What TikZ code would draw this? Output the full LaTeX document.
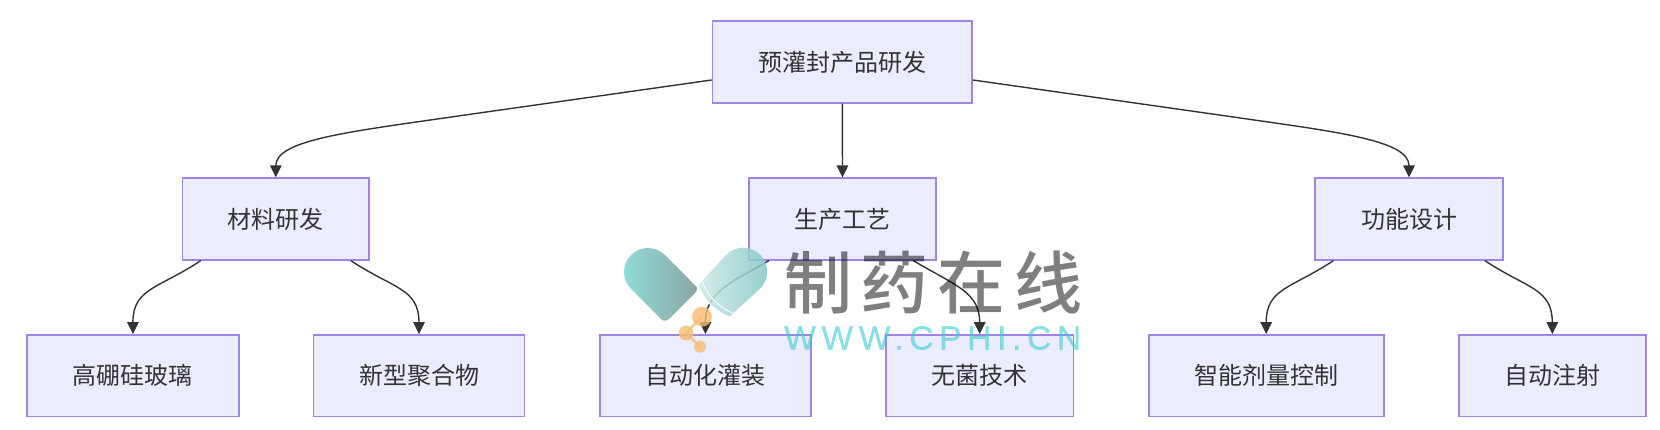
\documentclass[tikz,border=0pt]{standalone}
\usepackage{fontspec}
\setmainfont{Noto Sans CJK SC}
\newfontfamily\wmcjk[LetterSpace=13]{Noto Sans CJK SC Medium}
\newfontfamily\wmlat[LetterSpace=17,FakeBold=.5]{Liberation Sans}
\usetikzlibrary{arrows.meta}
\definecolor{boxfill}{HTML}{ECECFF}
\definecolor{boxline}{HTML}{A283E3}
\definecolor{ink}{HTML}{333333}
\definecolor{wmcyan}{HTML}{3CCDD3}
\definecolor{wmorange}{HTML}{F5BC70}
\definecolor{pillA}{HTML}{92DDD9}
\definecolor{pillB}{HTML}{8AA5A3}
\definecolor{pillC}{HTML}{CDE9E5}
\definecolor{pillD}{HTML}{82C6C4}
\tikzset{
  box/.style={draw=boxline,fill=boxfill,line width=1.7pt,text=ink,inner sep=0pt,
    minimum height=81.5pt,font=\fontsize{24}{28}\selectfont},
  link/.style={draw=ink,line width=1.4pt,-{Triangle[length=12pt,width=11.5pt]}},
  pilledge/.style={draw=white,line width=0.9pt},
  atom/.style={fill=wmorange,fill opacity=.8},
  bond/.style={draw=wmorange,line width=2.5pt,opacity=.8},
}
\begin{document}
\begin{tikzpicture}[x=1pt,y=-1pt]
\useasboundingbox (0,0) rectangle (1660,430);
% boxes
\node[box,minimum width=259.5pt] (root) at (842.3,62) {预灌封产品研发};
\node[box,minimum width=186.5pt] (mat)  at (275.8,219) {材料研发};
\node[box,minimum width=187.5pt] (prod) at (842.5,219) {生产工艺};
\node[box,minimum width=187.5pt] (func) at (1409,219) {功能设计};
\node[box,minimum width=211.5pt] (gao)  at (132.9,375.7) {高硼硅玻璃};
\node[box,minimum width=211pt]   (xin)  at (419,375.7) {新型聚合物};
\node[box,minimum width=211pt]   (zi)   at (705.4,375.7) {自动化灌装};
\node[box,minimum width=187.5pt] (wu)   at (979.7,375.7) {无菌技术};
\node[box,minimum width=235pt]   (zhi)  at (1266.2,375.7) {智能剂量控制};
\node[box,minimum width=187pt]   (auto) at (1552.3,375.7) {自动注射};
% connectors
\draw[link] ([yshift=-18pt]root.west) -- ++(-250,35.5) .. controls +(-110,16) and +(0,-38) .. (mat.north);
\draw[link] (root.south) -- (prod.north);
\draw[link] ([yshift=-18pt]root.east) -- ++(250,35.5) .. controls +(110,16) and +(0,-38) .. (func.north);
\draw[link] ([xshift=-75pt]mat.south) .. controls +(-42,28) and +(0,-46) .. (gao.north);
\draw[link] ([xshift=75pt]mat.south) .. controls +(42,28) and +(0,-46) .. (xin.north);
\draw[link] ([xshift=-73.5pt]prod.south) .. controls +(-38,22) and +(0,-42) .. (zi.north);
\draw[link] ([xshift=70.8pt]prod.south) .. controls +(42,25) and +(0,-42) .. (wu.north);
\draw[link] ([xshift=-75.6pt]func.south) .. controls +(-42,28) and +(0,-46) .. (zhi.north);
\draw[link] ([xshift=75.8pt]func.south) .. controls +(42,28) and +(0,-46) .. (auto.north);
% watermark: pills
\shade[left color=pillA,right color=pillB]
  (631,289) arc[start angle=135,end angle=315,radius=24] -- (696.7,287)
  .. controls (698,289) and (697,291) .. (695,293) -- (670,318)
  .. controls (667,321) and (664,322) .. (661,319) -- cycle;
\begin{scope}[opacity=.85]
\shade[shading angle=-45,left color=pillC,right color=pillD]
  (726.2,254.7) arc[start angle=225,end angle=405,radius=24] -- (729.3,316.7)
  .. controls (715,312) and (702,298) .. (698.4,285) -- cycle;
\end{scope}
\draw[pilledge] (698.4,285) .. controls (702,298) and (715,312) .. (729.3,316.7);
\draw[pilledge] (702,281) .. controls (706,294) and (719,308) .. (732.8,313);
% watermark: molecule
\draw[bond] (702,316.7) -- (686,333) -- (700,346.7);
\fill[atom] (702,316.7) circle[radius=10];
\fill[atom] (686,333) circle[radius=7.5];
\fill[atom] (700,346.7) circle[radius=6];
% watermark: text
\node[anchor=west,inner sep=0pt,text=black,text opacity=.5,font=\wmcjk\fontsize{68}{70}\selectfont] (wmcn) at (784,283) {制药在线};
\node[anchor=west,inner sep=0pt,text=wmcyan,text opacity=.6,font=\wmlat\fontsize{33.5}{36}\selectfont] (wmen) at (784,338) {WWW.CPHI.CN};
\end{tikzpicture}
\end{document}
